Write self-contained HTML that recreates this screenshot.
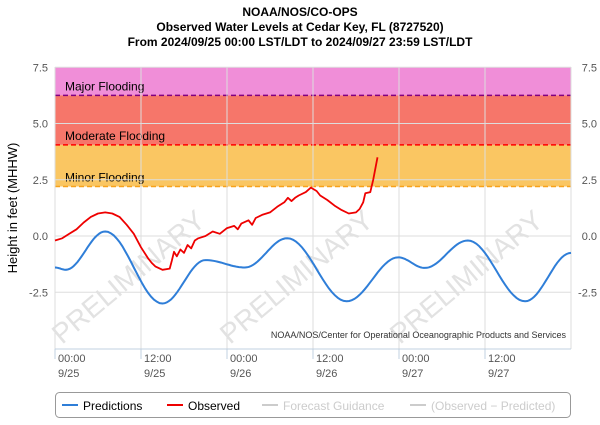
<!DOCTYPE html>
<html><head><meta charset="utf-8"><style>
body{margin:0;background:#fff;font-family:"Liberation Sans",sans-serif}
svg{display:block}
</style></head><body>
<svg width="600" height="425" viewBox="0 0 600 425">
<g font-weight="bold" font-size="12" text-anchor="middle" fill="#000">
<text x="300" y="16">NOAA/NOS/CO-OPS</text>
<text x="300" y="31">Observed Water Levels at Cedar Key, FL (8727520)</text>
<text x="300" y="46">From 2024/09/25 00:00 LST/LDT to 2024/09/27 23:59 LST/LDT</text>
</g>
<g id="bands"></g>
<g id="grid"></g>
<g id="wm" fill="#e2e2e2" font-size="28">
<text transform="translate(62,345) rotate(-40)">PRELIMINARY</text>
<text transform="translate(230,345) rotate(-40)">PRELIMINARY</text>
<text transform="translate(400,345) rotate(-40)">PRELIMINARY</text>
</g>
<g id="series"></g>
<text x="566" y="338" text-anchor="end" font-size="9" fill="#333">NOAA/NOS/Center for Operational Oceanographic Products and Services</text>
<text transform="translate(17,208) rotate(-90)" text-anchor="middle" font-size="13" fill="#000">Height in feet (MHHW)</text>
<g id="axes" font-size="11" fill="#555"></g>
<g>
<rect x="55.5" y="392.5" width="515" height="25" rx="4" fill="#fff" stroke="#999"/>
<g><line x1="62" y1="405" x2="78" y2="405" stroke="#2f7ed8" stroke-width="2"/><text x="83" y="410" font-size="12">Predictions</text></g>
<g><line x1="167" y1="405" x2="183" y2="405" stroke="#e00" stroke-width="2"/><text x="188" y="410" font-size="12">Observed</text></g>
<g><line x1="262" y1="405" x2="278" y2="405" stroke="#ccc" stroke-width="2"/><text x="283" y="410" font-size="12" fill="#ccc">Forecast Guidance</text></g>
<g><line x1="410" y1="405" x2="426" y2="405" stroke="#ccc" stroke-width="2"/><text x="431" y="410" font-size="12" fill="#ccc">(Observed − Predicted)</text></g>
</g>
</svg>
<script>
const yTicks=[7.5,5.0,2.5,0.0,-2.5];
const xTickHours=[0,12,24,36,48,60];
const xTickTimes=["00:00","12:00","00:00","12:00","00:00","12:00"];
const xTickDates=["9/25","9/25","9/26","9/26","9/27","9/27"];
const floodLevels=[6.25,4.05,2.2];
const floodNames=["Major Flooding","Moderate Flooding","Minor Flooding"];
const predHours=[0,1.5,7,15,21,26.5,32.4,40.7,47.9,51.6,57.6,65.6,72];
const predValues=[-1.4,-1.5,0.2,-3.0,-1.07,-1.4,-0.1,-2.9,-0.95,-1.42,-0.2,-2.9,-0.75];
const obsHours=[0,1,2,3,4,5,6,7,8,9,10,11,12,13,13.5,14,15,16,16.3,16.6,17,17.5,18,18.5,19,19.5,20,21,22,23,24,25,25.5,26,27,27.5,28,29,30,31,32,32.5,33,33.5,34,35,35.7,36.5,37,38,39,40,41,42,42.5,43,43.3,44,44.4,45];
const obsValues=[-0.2,-0.1,0.1,0.3,0.6,0.85,1.0,1.05,1.0,0.85,0.5,0.1,-0.5,-1.0,-1.2,-1.35,-1.5,-1.45,-1.1,-0.7,-0.9,-0.6,-0.75,-0.4,-0.55,-0.2,-0.1,0.0,0.2,0.1,0.35,0.45,0.3,0.55,0.7,0.5,0.8,0.95,1.05,1.3,1.5,1.7,1.55,1.7,1.8,1.95,2.15,2.0,1.8,1.6,1.35,1.15,1.0,1.05,1.2,1.5,1.9,1.95,2.5,3.5];
const NS="http://www.w3.org/2000/svg";
const X0=55,X1=571,Y7=67,PXF=22.5;
const xs=h=>X0+(X1-X0)*h/72;
const ys=v=>236-v*PXF;
const YB=349;
function mk(p,t,a){const e=document.createElementNS(NS,t);for(const k in a)e.setAttribute(k,a[k]);document.getElementById(p).appendChild(e);return e;}
const bandColors=["#f08ed8","#f6766a","#fac662"];
const lineColors=["#800080","#f00","#f7a21b"];
let bandTop=7.5;
floodLevels.forEach((lv,i)=>{
 const r=mk("bands","rect",{x:X0,y:ys(bandTop),width:X1-X0,height:ys(lv)-ys(bandTop),fill:bandColors[i]});
 
 
 bandTop=lv;
});
floodLevels.forEach((lv,i)=>{
 const l=mk("bands","line",{x1:X0,x2:X1,y1:ys(lv),y2:ys(lv),stroke:lineColors[i],"stroke-width":1.5,"stroke-dasharray":"5,3"});
 
 
 const t=mk("bands","text",{x:65,y:ys(lv)-5,"font-size":12,fill:"#000"});
 t.textContent=floodNames[i];
 
 
});
yTicks.forEach(v=>{const g=mk("grid","line",{x1:X0,x2:X1,y1:ys(v),y2:ys(v),stroke:"#ddd"});
 
 });
xTickHours.concat([72]).forEach(h=>{const g=mk("grid","line",{x1:xs(h),x2:xs(h),y1:Y7,y2:YB,stroke:"#ddd"});
 
 });
mk("grid","line",{x1:X0,x2:X1,y1:YB,y2:YB,stroke:"#c0d0e0"});
yTicks.forEach(v=>{
 const a=mk("axes","text",{x:48,y:ys(v)+4,"text-anchor":"end"});a.textContent=v.toFixed(1);
 
 
 const b=mk("axes","text",{x:597,y:ys(v)+4,"text-anchor":"end"});b.textContent=v.toFixed(1);
 
 
});
xTickHours.forEach((h,i)=>{
 mk("axes","line",{x1:xs(h),x2:xs(h),y1:YB,y2:YB+10,stroke:"#c0d0e0"});
 const a=mk("axes","text",{x:xs(h)+3,y:362});a.textContent=xTickTimes[i];
 
 
 const b=mk("axes","text",{x:xs(h)+3,y:377});b.textContent=xTickDates[i];
 
 
});
let d="";
for(let i=0;i<predHours.length-1;i++){
 const h0=predHours[i],h1=predHours[i+1],v0=predValues[i],v1=predValues[i+1];
 for(let s=0;s<=20;s++){const f=s/20,h=h0+(h1-h0)*f,v=v0+(v1-v0)*(1-Math.cos(Math.PI*f))/2;
  d+=(d?"L":"M")+xs(h).toFixed(1)+","+ys(v).toFixed(1);}
}
const p=mk("series","path",{d:d,fill:"none",stroke:"#2f7ed8","stroke-width":2});


const o=mk("series","polyline",{points:obsHours.map((h,i)=>xs(h).toFixed(1)+","+ys(obsValues[i]).toFixed(1)).join(" "),fill:"none",stroke:"#e00","stroke-width":1.8,"stroke-linejoin":"round"});


</script>
</body></html>
